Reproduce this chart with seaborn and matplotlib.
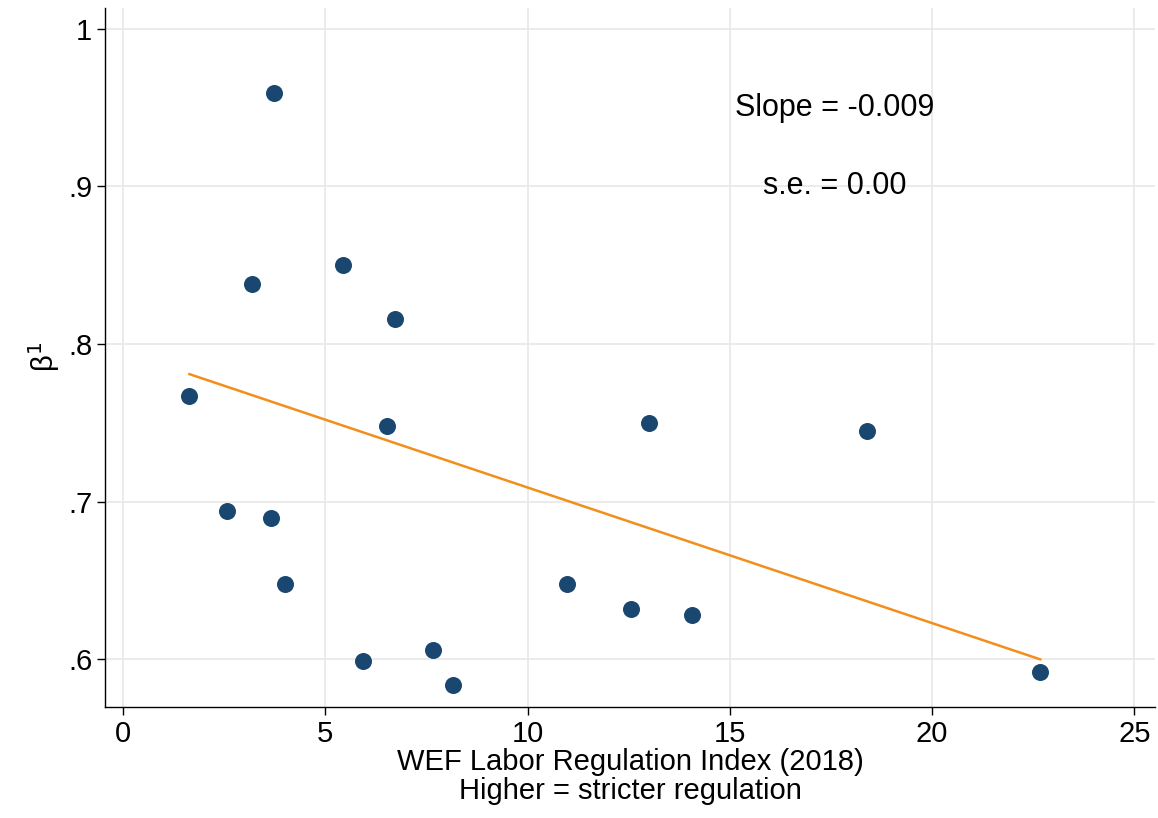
import numpy as np
import pandas as pd
import matplotlib
matplotlib.use("Agg")
import matplotlib.pyplot as plt
import seaborn as sns

# data
wef_index = [1.63, 3.73, 3.19, 5.43, 6.72, 6.52, 2.57, 3.66, 4.00, 5.93,
             7.66, 8.15, 10.97, 12.55, 12.99, 14.06, 18.40, 22.68]
beta1 = [0.767, 0.959, 0.838, 0.850, 0.816, 0.748, 0.694, 0.690, 0.648, 0.599,
         0.606, 0.584, 0.648, 0.632, 0.750, 0.628, 0.745, 0.592]
fit_ends = [0.781, 0.600]

df = pd.DataFrame({"x": wef_index, "y": beta1})

sns.set_theme(style="white")
plt.rcParams["font.family"] = ["Liberation Sans", "DejaVu Sans"]
plt.rcParams["text.color"] = "black"
plt.rcParams["axes.labelcolor"] = "black"
plt.rcParams["xtick.color"] = "black"
plt.rcParams["ytick.color"] = "black"

fig = plt.figure(figsize=(11.58, 8.18), dpi=100)
ax = fig.add_axes([0.091, 0.136, 0.906, 0.854])

for v in [0, 5, 10, 15, 20, 25]:
    ax.axvline(v, color="#e8e8e8", lw=1.2, zorder=0)
for v in [0.6, 0.7, 0.8, 0.9, 1.0]:
    ax.axhline(v, color="#e8e8e8", lw=1.2, zorder=0)

xl = [min(wef_index), max(wef_index)]
sns.lineplot(x=xl, y=fit_ends, color="#f28e1c", lw=1.8, ax=ax, zorder=2)
sns.scatterplot(data=df, x="x", y="y", color="#1a476f", s=150, edgecolor="#1a476f",
                linewidth=0, ax=ax, zorder=3)

ax.set_xlim(-0.44, 25.5)
ax.set_ylim(0.570, 1.013)
ax.set_xticks([0, 5, 10, 15, 20, 25])
ax.set_yticks([0.6, 0.7, 0.8, 0.9, 1.0])
ax.set_yticklabels([".6", ".7", ".8", ".9", "1"])
ax.tick_params(axis="both", labelsize=21, length=6, width=1, color="black",
               direction="out", bottom=True, left=True)
for s in ["top", "right"]:
    ax.spines[s].set_visible(False)
for s in ["left", "bottom"]:
    ax.spines[s].set_color("black")
    ax.spines[s].set_linewidth(1)

ax.set_xlabel("WEF Labor Regulation Index (2018)\nHigher = stricter regulation",
              fontsize=21, labelpad=0, linespacing=1.05)
ax.set_ylabel("β$^{\\mathrm{1}}$", fontsize=21)

ax.text(17.6, 0.95, "Slope = -0.009", fontsize=22, ha="center", va="center")
ax.text(17.6, 0.90, "s.e. = 0.00", fontsize=22, ha="center", va="center")

fig.savefig("out.png", dpi=100)
